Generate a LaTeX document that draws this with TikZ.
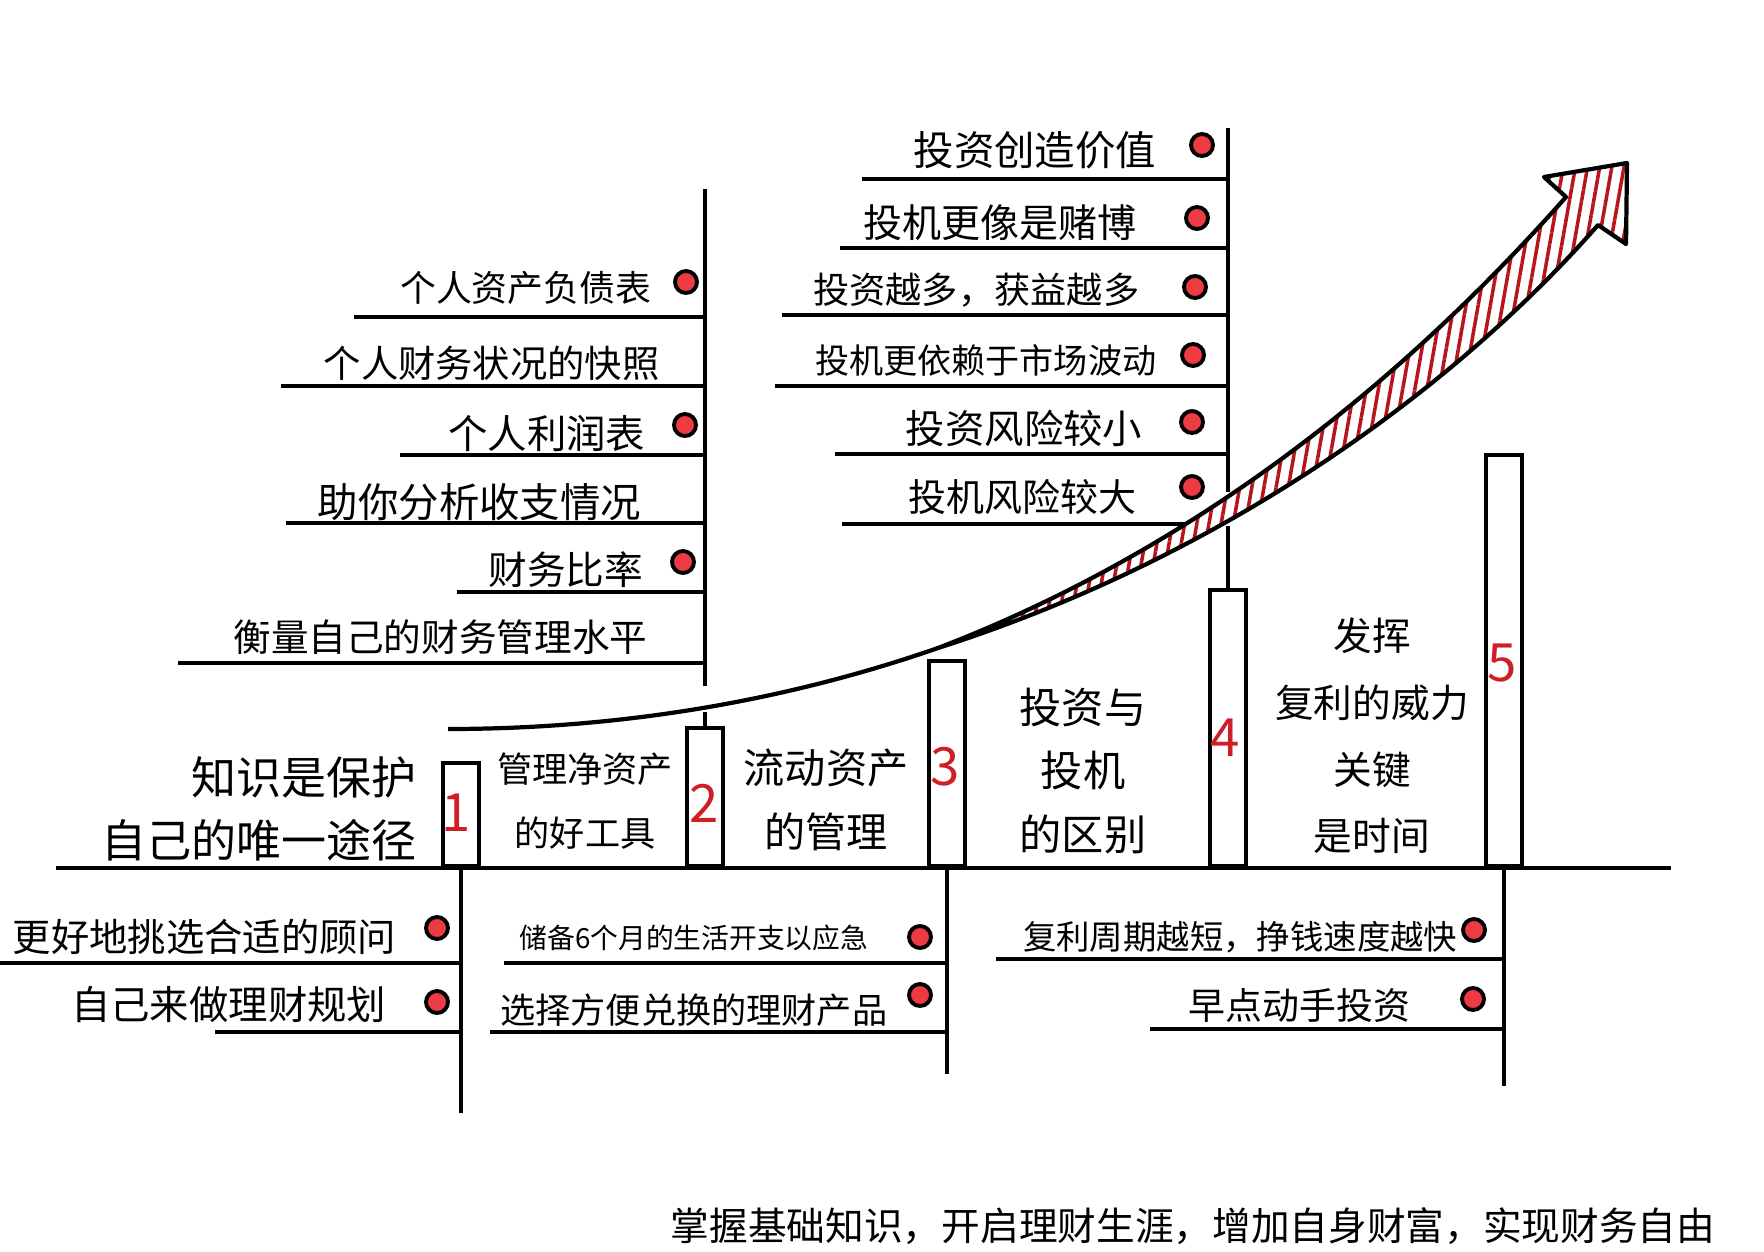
\documentclass[tikz,border=0pt]{standalone}
\usepackage{fontspec}
\newfontfamily\cjk{Noto Sans CJK SC}
\usepackage{xcolor}
\usetikzlibrary{patterns.meta}
\definecolor{inkred}{HTML}{D01E26}
\definecolor{dotred}{HTML}{EE3B43}
\definecolor{stripered}{HTML}{B8141E}

\begin{document}
\begin{tikzpicture}[
    x=0.01cm, y=-0.01cm,
    entry/.style={font=\cjk\fontsize{#1}{#1}\selectfont, anchor=east,
                  inner sep=0pt},
    topic/.style={font=\cjk\fontsize{#1}{18}\selectfont, align=center,
                  inner sep=0pt},
    bar/.style={draw, line width=1.2pt, fill=white, minimum width=0.36cm,
                anchor=south, inner sep=0pt},
    num/.style={text=inkred, font=\cjk\fontsize{15}{15}\selectfont,
                inner sep=0pt},
    reddot/.style={circle, draw, line width=1.1pt, fill=dotred,
                   minimum size=0.22cm, inner sep=0pt},
    uline/.style={line width=1pt},
    bandline/.style={line width=1.2pt, line join=round}
  ]
  \useasboundingbox (0,0) rectangle (1764,1252);

  % ground line
  \draw[line width=1.4pt] (56,868) -- (1671,868);

  % underlines, top left
  \draw[uline] (354,317) -- (706,317);
  \draw[uline] (281,386) -- (706,386);
  \draw[uline] (400,455) -- (706,455);
  \draw[uline] (286,523) -- (706,523);
  \draw[uline] (457,592) -- (706,592);
  \draw[uline] (178,663) -- (706,663);
  % underlines, top right
  \draw[uline] (862,179) -- (1228,179);
  \draw[uline] (840,248) -- (1228,248);
  \draw[uline] (782,315) -- (1228,315);
  \draw[uline] (775,386) -- (1228,386);
  \draw[uline] (835,454) -- (1228,454);
  \draw[uline] (842,524) -- (1187,524);
  % underlines, bottom
  \draw[uline] (0,963) -- (461,963);
  \draw[uline] (215,1032) -- (461,1032);
  \draw[uline] (504,963) -- (947,963);
  \draw[uline] (490,1032) -- (947,1032);
  \draw[uline] (996,959) -- (1504,959);
  \draw[uline] (1150,1029) -- (1504,1029);

  % the five bars
  \node[bar, minimum height=1.03cm] (bar1) at (461,868) {};
  \node[bar, minimum height=1.38cm] (bar2) at (705,868) {};
  \node[bar, minimum height=2.05cm] (bar3) at (947,868) {};
  \node[bar, minimum height=2.76cm] (bar4) at (1228,868) {};
  \node[bar, minimum height=4.11cm] (bar5) at (1504,868) {};

  \node[num] (n1) at (456,813) {1};
  \node[num] (n2) at (704,803) {2};
  \node[num] (n3) at (945,767) {3};
  \node[num] (n4) at (1225,738) {4};
  \node[num] (n5) at (1502,663) {5};

  % stems
  \draw[uline] (bar2.north) -- ++(0,-14);
  \draw[uline] (bar2.north) ++(0,-40) -- ++(0,-497);
  \draw[uline] (bar4.north) -- ++(0,-62);
  \draw[uline] (bar4.north) ++(0,-96) -- ++(0,-364);
  \draw[uline] (bar1.south) -- ++(0,245);
  \draw[uline] (bar3.south) -- ++(0,206);
  \draw[uline] (bar5.south) -- ++(0,218);

  % top left list
  \node[entry=10.2] (tl1) at (652,288) {个人资产负债表};
  \node[entry=10.6] (tl2) at (660,363) {个人财务状况的快照};
  \node[entry=11.2] (tl3) at (646,433) {个人利润表};
  \node[entry=11.5] (tl4) at (642,502) {助你分析收支情况};
  \node[entry=11] (tl5) at (644,570) {财务比率};
  \node[entry=10.7] (tl6) at (648,637) {衡量自己的财务管理水平};
  \node[reddot] (dtl1) at (686,282) {};
  \node[reddot] (dtl3) at (685,425) {};
  \node[reddot] (dtl5) at (683,562) {};

  % top right list
  \node[entry=11.5] (tr1) at (1157,150) {投资创造价值};
  \node[entry=11.1] (tr2) at (1137,223) {投机更像是赌博};
  \node[entry=10.3] (tr3) at (1140,290) {投资越多，获益越多};
  \node[entry=9.7] (tr4) at (1157,360) {投机更依赖于市场波动};
  \node[entry=11.2] (tr5) at (1143,428) {投资风险较小};
  \node[entry=10.8] (tr6) at (1137,497) {投机风险较大};
  \node[reddot] (dtr1) at (1202,145) {};
  \node[reddot] (dtr2) at (1197,218) {};
  \node[reddot] (dtr3) at (1195,287) {};
  \node[reddot] (dtr4) at (1193,355) {};
  \node[reddot] (dtr5) at (1192,422) {};
  \node[reddot] (dtr6) at (1192,487) {};

  % between the bars
  \node[topic=12.8, align=right, anchor=east] (knowledge) at (417,809)
    {知识是保护\\自己的唯一途径};
  \node[topic=10] (networth) at (585,801) {管理净资产\\的好工具};
  \node[topic=11.7] (liquid) at (826,800) {流动资产\\的管理};
  \node[topic=12] (invest) at (1083,771) {投资与\\投机\\的区别};
  \node[topic=11, font=\cjk\fontsize{11}{19}\selectfont] (compound)
    at (1372,736) {发挥\\复利的威力\\关键\\是时间};

  % bottom lists
  \node[entry=10.9] (bl1) at (397,937) {更好地挑选合适的顾问};
  \node[entry=11.2] (bl2) at (387,1005) {自己来做理财规划};
  \node[reddot] (dbl1) at (437,928) {};
  \node[reddot] (dbl2) at (437,1002) {};

  \node[entry=7.9] (bm1) at (869,938) {储备6个月的生活开支以应急};
  \node[entry=10] (bm2) at (888,1010) {选择方便兑换的理财产品};
  \node[reddot] (dbm1) at (920,937) {};
  \node[reddot] (dbm2) at (920,995) {};

  \node[entry=9.5] (br1) at (1458,937) {复利周期越短，挣钱速度越快};
  \node[entry=10.5] (br2) at (1411,1005) {早点动手投资};
  \node[reddot] (dbr1) at (1474,930) {};
  \node[reddot] (dbr2) at (1473,999) {};

  % growth arrow
  \draw[bandline] (448,729) .. controls (630,729) and (794,698) .. (938,648);
  \path[bandline, draw, preaction={fill=white},
        preaction={pattern={Lines[angle=80, distance=3.4pt, line width=1pt]},
                   pattern color=stripered}]
    (938,648) .. controls (1227,537) and (1432,348) .. (1566,197)
    -- (1544,177) -- (1627,163) -- (1626,244) -- (1598,225)
    .. controls (1462,380) and (1235,553) .. (938,648) -- cycle;

  % motto
  \node[entry=11] (motto) at (1716,1226)
    {掌握基础知识，开启理财生涯，增加自身财富，实现财务自由};
\end{tikzpicture}
\end{document}
